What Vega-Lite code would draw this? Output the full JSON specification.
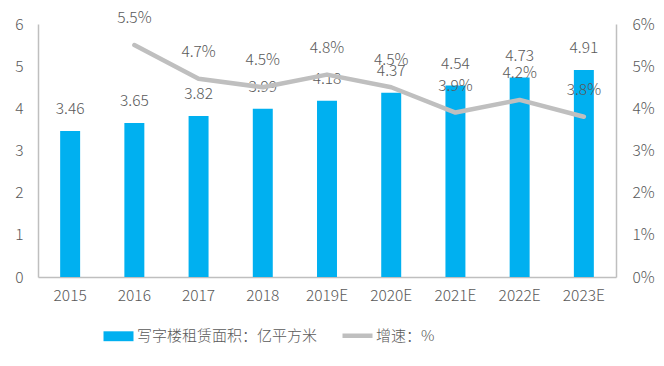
{
  "$schema": "https://vega.github.io/schema/vega-lite/v6.json",
  "width": 578,
  "height": 253,
  "autosize": "none",
  "padding": {"left": 38, "top": 24, "right": 48, "bottom": 89},
  "background": "white",
  "config": {
    "view": {"stroke": null},
    "font": "Noto Sans CJK SC",
    "axis": {
      "domainColor": "#BFBFBF",
      "domainWidth": 1.5,
      "ticks": false,
      "grid": false,
      "labelFont": "Noto Sans CJK SC",
      "labelFontWeight": 300,
      "labelFontSize": 15.5,
      "labelColor": "#595959",
      "title": null
    }
  },
  "data": {
    "values": [
      {"year": "2015", "area": 3.46, "growth": null},
      {"year": "2016", "area": 3.65, "growth": 0.055},
      {"year": "2017", "area": 3.82, "growth": 0.047},
      {"year": "2018", "area": 3.99, "growth": 0.045},
      {"year": "2019E", "area": 4.18, "growth": 0.048},
      {"year": "2020E", "area": 4.37, "growth": 0.045},
      {"year": "2021E", "area": 4.54, "growth": 0.039},
      {"year": "2022E", "area": 4.73, "growth": 0.042},
      {"year": "2023E", "area": 4.91, "growth": 0.038}
    ]
  },
  "encoding": {
    "x": {
      "field": "year",
      "type": "nominal",
      "sort": null,
      "scale": {"paddingInner": 0.689, "paddingOuter": 0.345},
      "axis": {"labelAngle": 0, "labelPadding": 11}
    }
  },
  "layer": [
    {
      "layer": [
        {
          "mark": {"type": "bar"},
          "encoding": {
            "y": {
              "field": "area",
              "type": "quantitative",
              "scale": {"domain": [0, 6]},
              "axis": {"values": [0, 1, 2, 3, 4, 5, 6], "labelPadding": 15, "orient": "left"}
            },
            "color": {
              "datum": "写字楼租赁面积：亿平方米",
              "type": "nominal",
              "scale": {
                "domain": ["写字楼租赁面积：亿平方米", "增速：%"],
                "range": ["#00B0F0", "#BFBFBF"]
              },
              "legend": {
                "title": null,
                "orient": "none",
                "legendX": 73,
                "legendY": 304,
                "direction": "horizontal",
                "symbolSize": 900,
                "symbolType": "M-1,-0.33H1V0.33H-1Z",
                "labelFont": "Noto Sans CJK SC",
                "labelFontWeight": 300,
                "labelFontSize": 15,
                "labelColor": "#595959",
                "labelOffset": 11,
                "labelLimit": 400,
                "columnPadding": 15,
                "encode": {
                  "symbols": {
                    "update": {
                      "shape": {"signal": "datum.value === '增速：%' ? 'M-1,0H1' : 'M-1,-0.33H1V0.33H-1Z'"},
                      "fill": {"signal": "datum.value === '增速：%' ? 'transparent' : '#00B0F0'"},
                      "stroke": {"signal": "datum.value === '增速：%' ? '#BFBFBF' : 'transparent'"},
                      "strokeWidth": {"signal": "datum.value === '增速：%' ? 4.5 : 0"},
                      "opacity": {"value": 1}
                    }
                  }
                }
              }
            }
          }
        },
        {
          "mark": {"type": "text", "dy": -22, "fontSize": 15.5, "fontWeight": 300, "color": "#595959", "font": "Noto Sans CJK SC"},
          "encoding": {
            "y": {"field": "area", "type": "quantitative"},
            "text": {"field": "area", "type": "quantitative", "format": ".2f"}
          }
        }
      ]
    },
    {
      "transform": [{"filter": "datum.growth != null"}],
      "layer": [
        {
          "mark": {"type": "line", "strokeWidth": 4.5, "strokeJoin": "round", "strokeCap": "round"},
          "encoding": {
            "y": {
              "field": "growth",
              "type": "quantitative",
              "scale": {"domain": [0, 0.06]},
              "axis": {"values": [0, 0.01, 0.02, 0.03, 0.04, 0.05, 0.06], "format": ".0%", "orient": "right", "labelPadding": 16}
            },
            "color": {"datum": "增速：%", "type": "nominal"}
          }
        },
        {
          "mark": {"type": "text", "dy": -27, "fontSize": 15.5, "fontWeight": 300, "color": "#595959", "font": "Noto Sans CJK SC"},
          "encoding": {
            "y": {"field": "growth", "type": "quantitative"},
            "text": {"field": "growth", "type": "quantitative", "format": ".1%"}
          }
        }
      ]
    }
  ],
  "resolve": {"scale": {"y": "independent"}}
}
